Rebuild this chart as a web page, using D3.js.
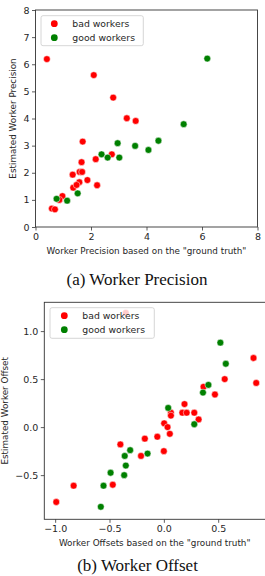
<!DOCTYPE html>
<html><head><meta charset="utf-8">
<script src="https://cdn.jsdelivr.net/npm/d3@7"></script>
<style>
body{margin:0;background:#fff;}
svg{display:block;}
text{font-family:"DejaVu Sans",sans-serif;fill:#262626;}
.cap{font-family:"Liberation Serif","Times New Roman",serif;fill:#111;}
</style></head><body>
<svg id="c" width="265" height="576"></svg>
<script>
// ---- Data: (a) Worker Precision ----
const precBadX  = [0.41,2.10,2.80,3.29,3.61,1.70,2.75,2.17,1.66,1.34,1.59,1.68,1.87,1.58,1.36,1.48,2.22,0.97,0.86,0.59,0.70];
const precBadY  = [6.19,5.60,4.77,4.01,3.91,3.15,2.68,2.50,2.39,1.93,2.03,2.03,1.73,1.65,1.45,1.55,1.54,1.14,1.00,0.68,0.65];
const precGoodX = [6.19,5.34,2.96,3.59,4.43,4.07,2.38,2.60,3.02,1.52,0.76,1.14];
const precGoodY = [6.21,3.79,3.09,2.99,3.18,2.84,2.68,2.56,2.56,1.24,1.04,0.97];
const precTicks = [0,2,4,6,8];
const precYTicks = [0,1,2,3,4,5,6,7,8];
// ---- Data: (b) Worker Offset ----
const offBadX  = [-0.35,0.825,0.85,0.56,0.365,0.47,0.19,0.17,0.21,0.28,0.32,0.065,0.065,0.003,0.034,0.055,-0.06,-0.175,-0.40,0.0,-0.21,-0.47,-0.83,-0.99];
const offBadY  = [1.19,0.72,0.46,0.50,0.42,0.34,0.24,0.15,0.15,0.15,0.08,0.15,0.12,0.04,0.0,-0.07,-0.10,-0.12,-0.18,-0.25,-0.30,-0.60,-0.61,-0.78];
const offGoodX = [0.52,0.57,0.41,0.36,0.28,0.04,-0.15,-0.31,-0.36,-0.35,-0.49,-0.365,-0.555,-0.58];
const offGoodY = [0.88,0.66,0.44,0.36,0.03,0.20,-0.275,-0.24,-0.30,-0.40,-0.475,-0.50,-0.61,-0.83];
const offXTicks = [-1.0,-0.5,0.0,0.5];
const offYTicks = [-0.5,0.0,0.5,1.0];
const legendLabels = ["bad workers","good workers"];
const colors = ["#ff0000","#008000"];

const svg = d3.select("#c");
const fmt1 = d => d3.format(".1f")(d).replace("-","\u2212");

function panel(cfg){
  const g = svg.append("g");
  const x = d3.scaleLinear().domain(cfg.xd).range(cfg.xr);
  const y = d3.scaleLinear().domain(cfg.yd).range(cfg.yr);
  const series = [[cfg.bx,cfg.by],[cfg.gx,cfg.gy]];
  series.forEach((s,i)=>{
    g.append("g").selectAll("circle").data(s[0].map((v,j)=>[v,s[1][j]])).join("circle")
      .attr("cx",d=>x(d[0])).attr("cy",d=>y(d[1])).attr("r",3.4)
      .attr("fill",colors[i]).attr("stroke","#fff").attr("stroke-width",0.5);
  });
  const ax = g.append("g").attr("transform",`translate(0,${cfg.yr[0]})`)
    .call(d3.axisBottom(x).tickValues(cfg.xt).tickFormat(cfg.xf).tickSize(3.5).tickPadding(2.5));
  const ay = g.append("g").attr("transform",`translate(${cfg.xr[0]},0)`)
    .call(d3.axisLeft(y).tickValues(cfg.yt).tickFormat(cfg.yf).tickSize(3.5).tickPadding(2.5));
  [ax,ay].forEach(a=>{
    a.select(".domain").remove();
    a.selectAll("line").attr("stroke","#333").attr("stroke-width",0.8);
    a.selectAll("text").attr("font-size",9.5).attr("font-family","DejaVu Sans").attr("fill","#333");
  });
  g.append("rect").attr("x",cfg.xr[0]).attr("y",cfg.yr[1])
    .attr("width",cfg.xr[1]-cfg.xr[0]).attr("height",cfg.yr[0]-cfg.yr[1])
    .attr("fill","none").attr("stroke","#333").attr("stroke-width",0.9);
  g.append("text").attr("x",cfg.xlx).attr("y",cfg.xly).attr("text-anchor","middle")
    .attr("font-size",8.8).text(cfg.xl);
  g.append("text").attr("transform",`translate(${cfg.ylx},${(cfg.yr[0]+cfg.yr[1])/2}) rotate(-90)`)
    .attr("text-anchor","middle").attr("font-size",8.8).text(cfg.yl);
  const L = cfg.leg;
  g.append("rect").attr("x",L.x).attr("y",L.y).attr("width",L.w).attr("height",L.h)
    .attr("rx",2).attr("fill","#fff").attr("fill-opacity",0.8).attr("stroke","#ccc").attr("stroke-width",0.8);
  legendLabels.forEach((t,i)=>{
    g.append("circle").attr("cx",L.x+L.mx).attr("cy",L.y+8+i*14).attr("r",3.4).attr("fill",colors[i]);
    g.append("text").attr("x",L.x+L.tx).attr("y",L.y+8+i*14).attr("dy","0.35em")
      .attr("font-size",9.3).text(t);
  });
  svg.append("text").attr("class","cap").attr("x",cfg.capx).attr("y",cfg.capy)
    .attr("text-anchor","middle").attr("font-size",17).text(cfg.cap);
}

panel({xd:[0,8],xr:[35.5,257.5],yd:[0,8],yr:[227,10],
  bx:precBadX,by:precBadY,gx:precGoodX,gy:precGoodY,
  xt:precTicks,yt:precYTicks,xf:d3.format("d"),yf:d3.format("d"),
  xl:'Worker Precision based on the "ground truth"',xlx:146.5,xly:253.5,
  yl:"Estimated Worker Precision",ylx:16,
  leg:{x:41,y:15.7,w:102.3,h:30,mx:13.3,tx:31.3},
  cap:"(a) Worker Precision",capx:137,capy:285});

panel({xd:[-1.1,0.95],xr:[44.3,267.1],yd:[-0.96,1.30],yr:[519.3,302.3],
  bx:offBadX,by:offBadY,gx:offGoodX,gy:offGoodY,
  xt:offXTicks,yt:offYTicks,xf:fmt1,yf:fmt1,
  xl:'Worker Offsets based on the "ground truth"',xlx:154.7,xly:546,
  yl:"Estimated Worker Offset",ylx:8,
  leg:{x:50,y:307.7,w:104.3,h:30.6,mx:14.3,tx:32.3},
  cap:"(b) Worker Offset",capx:137.5,capy:570.5});
</script></body></html>
